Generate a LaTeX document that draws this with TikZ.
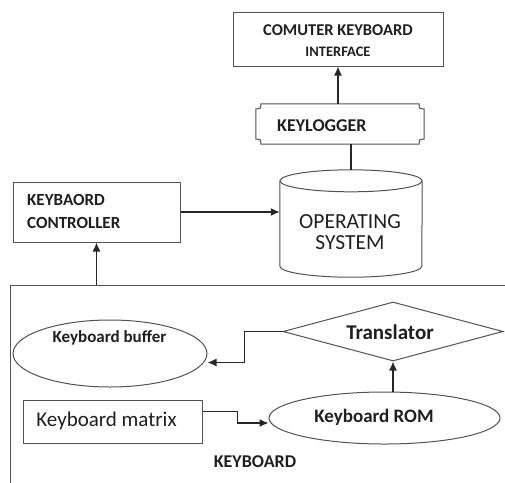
\documentclass[tikz,border=0pt]{standalone}
\usepackage{fontspec}
\setmainfont{Carlito}
\usetikzlibrary{shapes.geometric,arrows.meta,calc}

\begin{document}
\begin{tikzpicture}[x=1pt,y=-1pt,
  shapeline/.style={draw=black!68,line width=1pt},
  frame/.style={shapeline,rectangle,inner sep=0pt},
  oval/.style={shapeline,ellipse,inner sep=0pt},
  txt/.style={text=black!88,inner sep=0pt},
  bsmall/.style={txt,font=\bfseries\fontsize{17}{23}\selectfont},
  link/.style={draw=black!85,line width=1.3pt,-{Latex[length=9pt,width=8pt]}},
  plain/.style={draw=black!85,line width=1.3pt}]
\useasboundingbox (0,0) rectangle (505,482);

% top: interface box
\node[frame,minimum width=210pt,minimum height=54pt] (iface) at (338,39) {};
\node[txt,font=\bfseries\fontsize{16.5}{18}\selectfont] (ifaceA) at (338,30) {COMUTER KEYBOARD};
\node[txt,font=\bfseries\fontsize{14.5}{16}\selectfont] (ifaceB) at (338,52) {INTERFACE};

% keylogger plaque
\node[inner sep=0pt,minimum width=168pt,minimum height=40pt] (kl) at (340,124) {};
\draw[shapeline] ([xshift=5pt]kl.north west) -- ([xshift=-5pt]kl.north east)
  .. controls ([xshift=-5pt,yshift=-5pt]kl.north east) .. ([yshift=-5pt]kl.north east)
  -- ([yshift=5pt]kl.south east)
  .. controls ([xshift=-5pt,yshift=5pt]kl.south east) .. ([xshift=-5pt]kl.south east)
  -- ([xshift=5pt]kl.south west)
  .. controls ([xshift=5pt,yshift=5pt]kl.south west) .. ([yshift=5pt]kl.south west)
  -- ([yshift=-5pt]kl.north west)
  .. controls ([xshift=5pt,yshift=-5pt]kl.north west) .. cycle;
\node[txt,anchor=west,font=\bfseries\fontsize{18}{20}\selectfont] (kltext) at (277,126) {KEYLOGGER};

% operating system cylinder
\node[inner sep=0pt,minimum width=142pt,minimum height=107pt] (os) at (351,223.5) {};
\draw[shapeline] ([yshift=-11pt]os.north west) -- ([yshift=11pt]os.south west)
  arc[start angle=180,end angle=360,x radius=71pt,y radius=11pt]
  -- ([yshift=-11pt]os.north east);
\draw[shapeline] ([yshift=-11pt]os.north) ellipse [x radius=71pt,y radius=11pt];
\node[txt,align=center,font=\fontsize{21.5}{21}\selectfont] (ostext) at (350,232) {OPERATING\\SYSTEM};

% keyboard controller
\node[frame,minimum width=167pt,minimum height=60pt] (ctrl) at (96.5,212) {};
\node[bsmall,anchor=west,align=left] (ctrltext) at (27,211) {KEYBAORD\\CONTROLLER};

% keyboard enclosure (runs past the page edge)
\node[frame,anchor=north west,minimum width=520pt,minimum height=220pt] (kbd) at (10,285) {};
\node[txt,font=\bfseries\fontsize{18}{20}\selectfont] (kbdtext) at (255,462) {KEYBOARD};

% keyboard internals
\node[oval,minimum width=194pt,minimum height=67pt] (buf) at (110,353.5) {};
\node[bsmall] (buftext) at (109.5,338) {Keyboard buffer};
\node[shapeline,diamond,aspect=3.7,inner sep=0pt,minimum width=220pt,minimum height=59pt] (tr) at (393,331.5) {};
\node[txt,font=\bfseries\fontsize{21}{22}\selectfont] (trtext) at (390,332) {Translator};
\node[frame,minimum width=179pt,minimum height=43pt] (mat) at (112.5,421.5) {};
\node[txt,font=\fontsize{21}{22}\selectfont] (mattext) at (106.5,421) {Keyboard matrix};
\node[oval,minimum width=231pt,minimum height=52pt] (rom) at (384.5,418) {};
\node[txt,font=\bfseries\fontsize{19}{20}\selectfont] (romtext) at (374,417) {Keyboard ROM};

% connectors
\draw[link] (kl.north -| iface.south) -- (iface.south);
\draw[plain] (kl.south -| os.north) -- (os.north);
\draw[link] (ctrl.east) -- (ctrl.east -| os.west);
\draw[link] (ctrl.south |- kbd.north) -- (ctrl.south);
\draw[link] (tr.west) -- ++(-38,0) |- ([yshift=-9pt]buf.east);
\draw[link] (tr.south |- rom.north) -- (tr.south);
\draw[link] ([yshift=10pt]mat.east) -- ++(35,0) |- ([yshift=-5pt]rom.west);
\end{tikzpicture}
\end{document}
